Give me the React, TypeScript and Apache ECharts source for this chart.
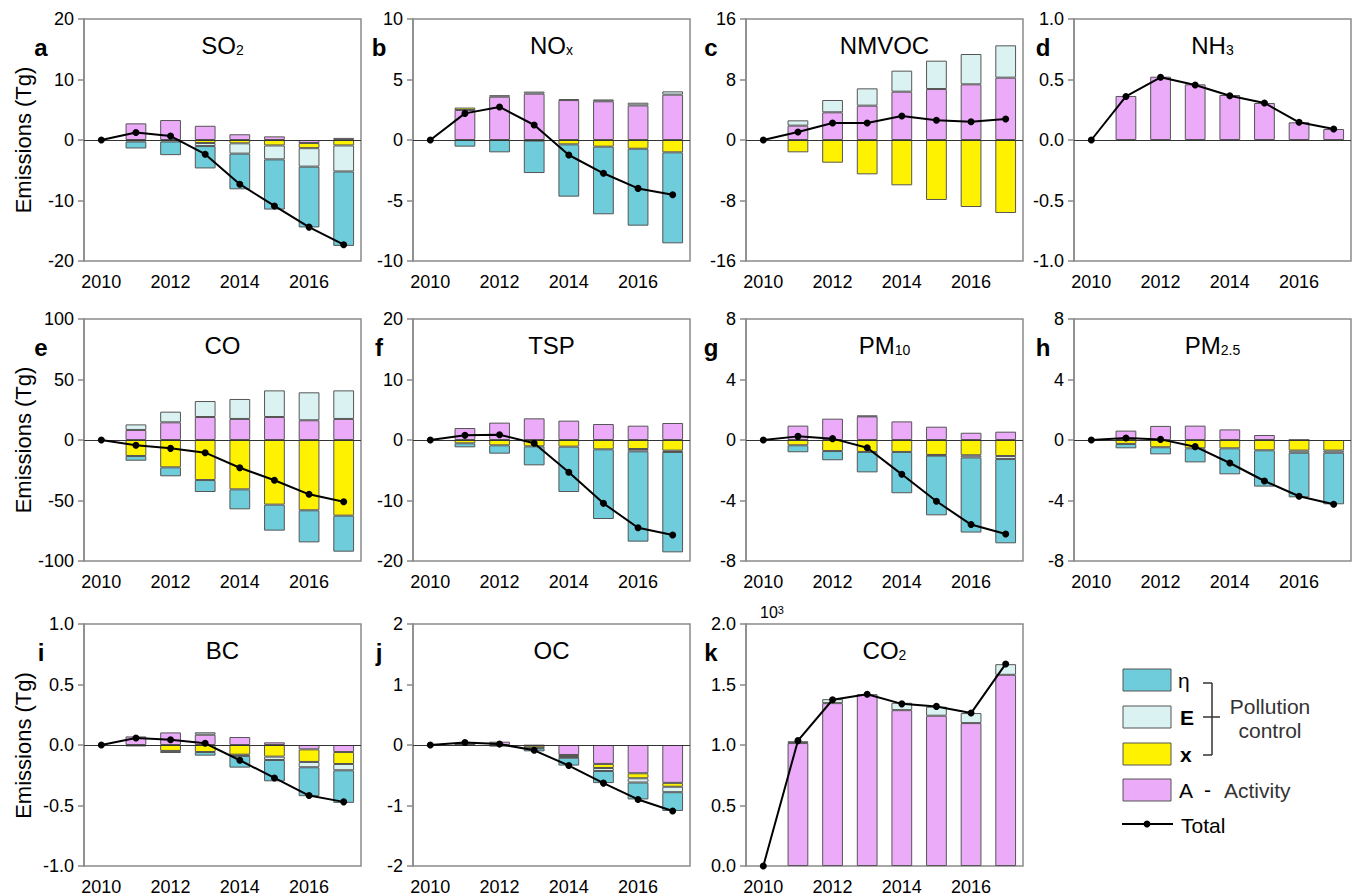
import React, { useEffect, useRef } from 'react';
import * as echarts from 'echarts';

const FONT = '"Liberation Sans", Arial, Helvetica, sans-serif';
const years = ['2010', '2011', '2012', '2013', '2014', '2015', '2016', '2017'];
const none = [0, 0, 0, 0, 0, 0, 0, 0];

// SO2
const so2A = [0, 2.75, 3.3, 2.35, 0.95, 0.6, -0.5, 0.35];
const so2X = [0, -0.25, -0.25, -0.5, -0.55, -0.9, -0.85, -0.9];
const so2E = [0, 0, 0, -0.5, -1.7, -2.3, -3.05, -4.3];
const so2Eta = [0, -1.15, -2.25, -3.7, -5.9, -8.3, -10.05, -12.3];
const so2Total = [0, 1.25, 0.65, -2.35, -7.3, -10.9, -14.4, -17.3];
// NOx
const noxA = [0, 2.48, 3.58, 3.83, 3.3, 3.2, 2.86, 3.75];
const noxX = [0, 0.2, 0, -0.05, -0.36, -0.55, -0.72, -1.02];
const noxE = [0, 0, 0.12, 0.17, 0.08, 0.15, 0.22, 0.27];
const noxEta = [0, -0.55, -1.02, -2.68, -4.32, -5.59, -6.36, -7.52];
const noxTotal = [0, 2.2, 2.73, 1.24, -1.24, -2.75, -4.0, -4.52];
// NMVOC
const vocA = [0, 1.9, 3.66, 4.54, 6.39, 6.74, 7.36, 8.24];
const vocX = [0, -1.63, -3.0, -4.54, -5.99, -7.93, -8.86, -9.65];
const vocE = [0, 0.7, 1.63, 2.29, 2.78, 3.75, 4.01, 4.28];
const vocTotal = [0, 1.06, 2.25, 2.25, 3.17, 2.6, 2.42, 2.78];
// NH3
const nh3A = [0, 0.364, 0.523, 0.46, 0.372, 0.306, 0.146, 0.091];
const nh3Total = [0, 0.36, 0.518, 0.455, 0.366, 0.306, 0.146, 0.091];
// CO
const coA = [0, 8.3, 14.6, 19.0, 17.4, 19.0, 16.3, 17.4];
const coX = [0, -13.2, -22.6, -33.1, -40.8, -53.4, -58.1, -62.5];
const coE = [0, 4.6, 8.8, 13.2, 16.5, 22.0, 23.1, 23.6];
const coEta = [0, -3.9, -7.4, -9.9, -16.5, -21.5, -26.5, -29.8];
const coTotal = [0, -4.4, -6.9, -10.5, -22.9, -33.3, -44.9, -51.0];
// TSP
const tspA = [0, 1.98, 2.87, 3.58, 3.2, 2.64, 2.37, 2.81];
const tspX = [0, -0.55, -0.88, -1.05, -1.1, -1.54, -1.49, -1.76];
const tspE = [0, 0, 0, 0, 0, 0, -0.38, -0.22];
const tspEta = [0, -0.66, -1.38, -3.14, -7.5, -11.52, -14.93, -16.59];
const tspTotal = [0, 0.77, 0.88, -0.55, -5.34, -10.47, -14.5, -15.7];
// PM10
const pm10A = [0, 0.95, 1.41, 1.56, 1.23, 0.88, 0.48, 0.55];
const pm10X = [0, -0.35, -0.73, -0.79, -0.79, -0.99, -1.01, -1.06];
const pm10E = [0, 0, 0, 0.05, 0, -0.04, -0.14, -0.2];
const pm10Eta = [0, -0.46, -0.61, -1.35, -2.73, -3.95, -4.97, -5.57];
const pm10Total = [0, 0.24, 0.09, -0.51, -2.27, -4.05, -5.59, -6.21];
// PM2.5
const pm25A = [0, 0.62, 0.93, 0.95, 0.7, 0.33, 0.02, 0];
const pm25X = [0, -0.26, -0.48, -0.55, -0.55, -0.68, -0.7, -0.7];
const pm25E = [0, 0, 0, 0, 0, 0, -0.14, -0.14];
const pm25Eta = [0, -0.29, -0.47, -0.93, -1.72, -2.4, -2.95, -3.41];
const pm25Total = [0, 0.13, 0.04, -0.44, -1.52, -2.71, -3.72, -4.25];
// BC
const bcA = [0, 0.071, 0.104, 0.085, 0.066, 0.022, -0.036, -0.058];
const bcX = [0, 0, -0.049, -0.058, -0.08, -0.096, -0.104, -0.099];
const bcE = [0, 0, 0, 0.02, -0.01, -0.028, -0.044, -0.052];
const bcEta = [0, -0.012, -0.017, -0.03, -0.097, -0.176, -0.239, -0.269];
const bcTotal = [0, 0.058, 0.044, 0.014, -0.126, -0.272, -0.418, -0.47];
// OC
const ocA = [0, 0.04, 0.055, -0.01, -0.165, -0.313, -0.467, -0.626];
const ocX = [0, -0.005, -0.027, -0.035, -0.033, -0.067, -0.083, -0.064];
const ocE = [0, 0, 0, -0.01, -0.012, -0.05, -0.07, -0.09];
const ocEta = [0, 0, 0, -0.05, -0.13, -0.2, -0.28, -0.31];
const ocTotal = [0, 0.04, 0.015, -0.088, -0.34, -0.63, -0.9, -1.09];
// CO2 (10^3 Tg)
const co2A = [0, 1.016, 1.346, 1.42, 1.288, 1.242, 1.181, 1.58];
const co2E = [0, 0, 0.033, 0, 0.061, 0.074, 0.083, 0.088];
const co2Eta = [0, 0.015, 0, 0, 0, 0, 0, 0];
const co2Total = [0, 1.036, 1.374, 1.42, 1.34, 1.319, 1.264, 1.67];

const C_A = '#ECABF9';
const C_X = '#FFF200';
const C_E = '#DAF2F2';
const C_ETA = '#6ECCDB';

const colLeft = [84, 413, 746, 1074];
const rowTop = [19, 319, 624];
const PW = 277;
const PH = [242, 242, 243];

const panels = [
  { letter: 'a', main: 'SO', sub: '2', A: so2A, x: so2X, E: so2E, eta: so2Eta, total: so2Total, min: -20, max: 20, step: 10, dec: 0, zero: true },
  { letter: 'b', main: 'NO', sub: 'x', A: noxA, x: noxX, E: noxE, eta: noxEta, total: noxTotal, min: -10, max: 10, step: 5, dec: 0, zero: true },
  { letter: 'c', main: 'NMVOC', sub: '', A: vocA, x: vocX, E: vocE, eta: none, total: vocTotal, min: -16, max: 16, step: 8, dec: 0, zero: true },
  { letter: 'd', main: 'NH', sub: '3', A: nh3A, x: none, E: none, eta: none, total: nh3Total, min: -1, max: 1, step: 0.5, dec: 1, zero: true },
  { letter: 'e', main: 'CO', sub: '', A: coA, x: coX, E: coE, eta: coEta, total: coTotal, min: -100, max: 100, step: 50, dec: 0, zero: true },
  { letter: 'f', main: 'TSP', sub: '', A: tspA, x: tspX, E: tspE, eta: tspEta, total: tspTotal, min: -20, max: 20, step: 10, dec: 0, zero: true },
  { letter: 'g', main: 'PM', sub: '10', A: pm10A, x: pm10X, E: pm10E, eta: pm10Eta, total: pm10Total, min: -8, max: 8, step: 4, dec: 0, zero: true },
  { letter: 'h', main: 'PM', sub: '2.5', A: pm25A, x: pm25X, E: pm25E, eta: pm25Eta, total: pm25Total, min: -8, max: 8, step: 4, dec: 0, zero: true },
  { letter: 'i', main: 'BC', sub: '', A: bcA, x: bcX, E: bcE, eta: bcEta, total: bcTotal, min: -1, max: 1, step: 0.5, dec: 1, zero: true },
  { letter: 'j', main: 'OC', sub: '', A: ocA, x: ocX, E: ocE, eta: ocEta, total: ocTotal, min: -2, max: 2, step: 1, dec: 0, zero: true },
  { letter: 'k', main: 'CO', sub: '2', A: co2A, x: none, E: co2E, eta: co2Eta, total: co2Total, min: 0, max: 2, step: 0.5, dec: 1, zero: false },
];

const comps = [
  { key: 'A', color: C_A },
  { key: 'x', color: C_X },
  { key: 'E', color: C_E },
  { key: 'eta', color: C_ETA },
];

function buildOption() {
  const grid: any[] = [];
  const xAxis: any[] = [];
  const yAxis: any[] = [];
  const series: any[] = [];
  const graphic: any[] = [];

  panels.forEach((p: any, i) => {
    const r = Math.floor(i / 4);
    const c = i % 4;
    const left = colLeft[c];
    const top = rowTop[r];
    const h = PH[r];
    grid.push({ left, top, width: PW, height: h, show: true, borderColor: '#8a8a8a', borderWidth: 1.5, containLabel: false });
    xAxis.push({
      type: 'category', gridIndex: i, data: years,
      axisLine: { show: false }, axisTick: { show: false },
      axisLabel: { interval: 1, fontSize: 18, color: '#000', fontFamily: FONT, margin: 12 },
    });
    yAxis.push({
      type: 'value', gridIndex: i, min: p.min, max: p.max, interval: p.step,
      axisLine: { show: true, lineStyle: { color: '#8a8a8a', width: 1.5 } },
      axisTick: { show: true, length: 6, lineStyle: { color: '#8a8a8a', width: 1.5 } },
      axisLabel: { fontSize: 18, color: '#000', fontFamily: FONT, margin: 10, formatter: (v: number) => v.toFixed(p.dec) },
      splitLine: { show: false },
    });
    comps.forEach((cp) => {
      series.push({
        type: 'bar', name: cp.key, xAxisIndex: i, yAxisIndex: i, stack: 's' + i, stackStrategy: 'samesign',
        barWidth: '60%', silent: true,
        data: (p[cp.key] as number[]).map((v) => (v === 0 ? null : v)),
        itemStyle: { color: cp.color, borderColor: '#555', borderWidth: 1 },
      });
    });
    series.push({
      type: 'line', name: 'Total', xAxisIndex: i, yAxisIndex: i, data: p.total, z: 5,
      symbol: 'circle', symbolSize: 7, silent: true,
      lineStyle: { color: '#000', width: 2 }, itemStyle: { color: '#000' },
      markLine: p.zero ? {
        silent: true, symbol: 'none', label: { show: false },
        lineStyle: { color: '#333', width: 1, type: 'solid' },
        data: [{ yAxis: 0 }],
      } : undefined,
    });
    // title
    graphic.push({
      type: 'text', x: left + PW / 2, y: top + 26,
      style: {
        text: p.sub ? `{m|${p.main}}{s|${p.sub}}` : `{m|${p.main}}`,
        rich: {
          m: { fontSize: 24, fill: '#000', fontFamily: FONT },
          s: { fontSize: 14, fill: '#000', fontFamily: FONT, verticalAlign: 'bottom' },
        },
        align: 'center', verticalAlign: 'middle',
      },
    });
    // letter
    const lx = [41, 379, 711, 1043][c];
    graphic.push({
      type: 'text', x: lx, y: top + 28,
      style: { text: p.letter, fontSize: 24, fontWeight: 'bold', fill: '#000', fontFamily: FONT, align: 'center', verticalAlign: 'middle' },
    });
    if (c === 0) {
      graphic.push({
        type: 'text', x: 23, y: top + h / 2, rotation: Math.PI / 2,
        style: { text: 'Emissions (Tg)', fontSize: 22, fill: '#000', fontFamily: FONT, align: 'center', verticalAlign: 'middle' },
      });
    }
  });

  // 10^3 above panel k
  graphic.push({
    type: 'text', x: 760, y: 612,
    style: {
      text: '{m|10}{p|3}',
      rich: { m: { fontSize: 16, fill: '#000', fontFamily: FONT }, p: { fontSize: 11, fill: '#000', fontFamily: FONT, verticalAlign: 'top' } },
      align: 'left', verticalAlign: 'middle',
    },
  });

  // legend
  const legRows = [
    { y: 669, color: C_ETA },
    { y: 706, color: C_E },
    { y: 743, color: C_X },
    { y: 779, color: C_A },
  ];
  legRows.forEach((lr) => {
    graphic.push({ type: 'rect', shape: { x: 1123, y: lr.y, width: 48, height: 22 }, style: { fill: lr.color, stroke: '#555', lineWidth: 1 } });
  });
  const lt = (text: string, x: number, y: number, extra: any = {}) => ({
    type: 'text', x, y, style: { text, fontSize: 21, fill: '#000', fontFamily: FONT, align: 'left', verticalAlign: 'middle', ...extra },
  });
  graphic.push(lt('η', 1178, 680));
  graphic.push(lt('E', 1180, 717, { fontWeight: 'bold' }));
  graphic.push(lt('x', 1180, 754, { fontWeight: 'bold' }));
  graphic.push(lt('A', 1179, 790));
  graphic.push(lt('-', 1204, 789));
  graphic.push(lt('Activity', 1224, 790, { fill: '#333' }));
  graphic.push(lt('Total', 1181, 825));
  graphic.push(lt('Pollution', 1270, 706, { align: 'center', fill: '#333' }));
  graphic.push(lt('control', 1270, 730, { align: 'center', fill: '#333' }));
  const ls = { stroke: '#333', lineWidth: 1.5 };
  graphic.push({ type: 'line', shape: { x1: 1212, y1: 683, x2: 1212, y2: 755 }, style: ls });
  graphic.push({ type: 'line', shape: { x1: 1203, y1: 683, x2: 1212, y2: 683 }, style: ls });
  graphic.push({ type: 'line', shape: { x1: 1203, y1: 755, x2: 1212, y2: 755 }, style: ls });
  graphic.push({ type: 'line', shape: { x1: 1203, y1: 717, x2: 1220, y2: 717 }, style: ls });
  graphic.push({ type: 'line', shape: { x1: 1122, y1: 824, x2: 1173, y2: 824 }, style: { stroke: '#000', lineWidth: 2 } });
  graphic.push({ type: 'circle', shape: { cx: 1147, cy: 824, r: 3.5 }, style: { fill: '#000' } });

  return {
    animation: false,
    backgroundColor: '#fff',
    textStyle: { fontFamily: FONT },
    grid, xAxis, yAxis, series, graphic,
  };
}

export default function App() {
  const ref = useRef<HTMLDivElement>(null);
  useEffect(() => {
    const chart = echarts.init(ref.current!, null, { renderer: 'svg', width: 1355, height: 896 });
    chart.setOption(buildOption() as any);
    return () => chart.dispose();
  }, []);
  return <div ref={ref} style={{ position: 'absolute', left: 0, top: 0, width: 1355, height: 896, background: '#fff' }} />;
}
